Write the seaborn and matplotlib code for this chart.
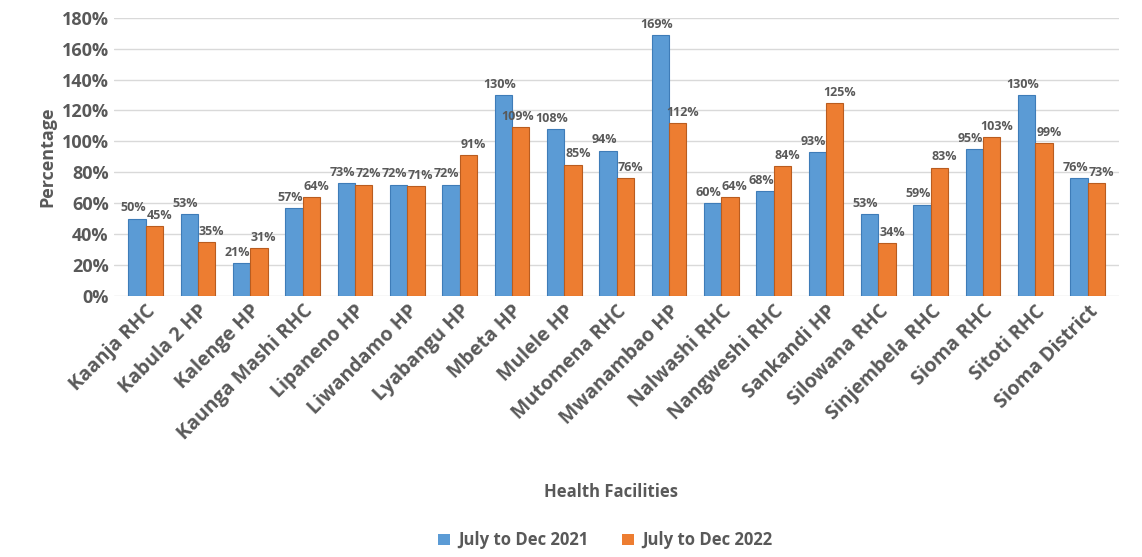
import matplotlib
matplotlib.use("Agg")
import matplotlib.pyplot as plt
import seaborn as sns
import pandas as pd

facilities = ["Kaanja RHC", "Kabula 2 HP", "Kalenge HP", "Kaunga Mashi RHC", "Lipaneno HP",
              "Liwandamo HP", "Lyabangu HP", "Mbeta HP", "Mulele HP", "Mutomena RHC",
              "Mwanambao HP", "Nalwashi RHC", "Nangweshi RHC", "Sankandi HP", "Silowana RHC",
              "Sinjembela RHC", "Sioma RHC", "Sitoti RHC", "Sioma District"]
values_2021 = [50, 53, 21, 57, 73, 72, 72, 130, 108, 94, 169, 60, 68, 93, 53, 59, 95, 130, 76]
values_2022 = [45, 35, 31, 64, 72, 71, 91, 109, 85, 76, 112, 64, 84, 125, 34, 83, 103, 99, 73]
series = ["July to Dec 2021", "July to Dec 2022"]
colors = ["#5B9BD5", "#ED7D31"]

df = pd.DataFrame({
    "Facility": facilities * 2,
    "Value": values_2021 + values_2022,
    "Period": [series[0]] * len(facilities) + [series[1]] * len(facilities),
})

sns.set_theme(style="white")
plt.rcParams["font.family"] = ["Open Sans", "DejaVu Sans"]
text_color = "#595959"

fig = plt.figure(figsize=(11.42, 5.57), dpi=100)
ax = fig.add_axes([0.10, 0.469, 0.88, 0.499])

sns.barplot(data=df, x="Facility", y="Value", hue="Period", palette=colors,
            width=0.66, ax=ax, legend=True, saturation=1, edgecolor="none")

# darker edge to hint at the 3D look; value labels nudged apart like the reference
n = len(facilities)
for k, (cont, col) in enumerate(zip(ax.containers, ["#3E7CB8", "#B95C1F"])):
    for i, (bar, v) in enumerate(zip(cont, cont.datavalues)):
        bar.set_edgecolor(col)
        bar.set_linewidth(0.8)
        if k == 0:
            dx, dy = -3, 3
        else:
            dx, dy = 3.5, 3
            near_next = i + 1 < n and abs(values_2021[i + 1] - v) < 6
            far_own = abs(values_2021[i] - v) > 10
            if near_next and far_own:
                dx = -2
        ax.annotate(f"{int(v)}%", (bar.get_x() + bar.get_width() / 2, bar.get_height()),
                    xytext=(dx, dy), textcoords="offset points", ha="center", va="bottom",
                    fontsize=9, fontweight="bold", color=text_color)

ax.set_ylim(0, 180)
ax.set_yticks(range(0, 181, 20))
ax.set_yticklabels([f"{t}%" for t in range(0, 181, 20)], fontsize=13, fontweight="bold", color=text_color)
ax.set_xlim(-0.6, n - 0.4)
ax.set_xticks(range(n))
ax.set_xticklabels(facilities, rotation=45, ha="right", rotation_mode="anchor",
                   fontsize=14, fontweight="bold", color=text_color)
ax.tick_params(axis="both", length=0, pad=4)
ax.yaxis.grid(True, color="#D9D9D9", linewidth=1)
ax.set_axisbelow(True)
for s in ax.spines.values():
    s.set_visible(False)

ax.set_ylabel("Percentage", fontsize=13, fontweight="bold", color=text_color, labelpad=4)
ax.set_xlabel("")
fig.text(0.535, 0.116, "Health Facilities", ha="center", va="center",
         fontsize=12, fontweight="bold", color=text_color)

handles, labels = ax.get_legend_handles_labels()
ax.get_legend().remove()
fig.legend(handles, labels, loc="center", bbox_to_anchor=(0.53, 0.03), ncol=2,
           frameon=False, handlelength=0.7, handleheight=0.7,
           columnspacing=2.0, handletextpad=0.5,
           prop={"weight": "bold", "size": 12})
for t in fig.legends[0].get_texts():
    t.set_color(text_color)

fig.savefig("out.png", dpi=100)
